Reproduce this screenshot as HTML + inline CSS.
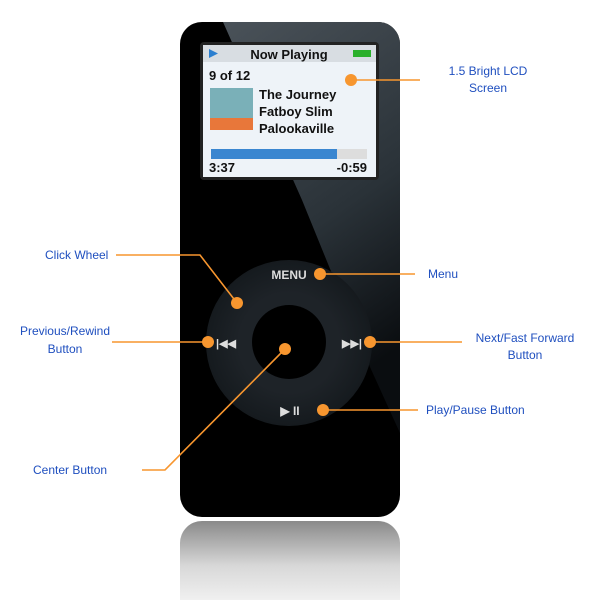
<!DOCTYPE html>
<html><head><style>
body{margin:0;background:#fff;}
svg text{font-family:"Liberation Sans",sans-serif;}
</style></head><body>
<svg width="600" height="600" viewBox="0 0 600 600" xmlns="http://www.w3.org/2000/svg">
<defs>
<linearGradient id="refl" x1="0" y1="0" x2="0" y2="1">
<stop offset="0" stop-color="#8a8a8a"/><stop offset="0.45" stop-color="#d8d8d8"/><stop offset="1" stop-color="#fff"/>
</linearGradient>
<linearGradient id="shine" x1="0" y1="0" x2="0.3" y2="1">
<stop offset="0" stop-color="#4a5259"/><stop offset="0.6" stop-color="#2a3238"/><stop offset="1" stop-color="#0a0d10"/>
</linearGradient>
<radialGradient id="wheel" cx="0.5" cy="0.5" r="0.5">
<stop offset="0.6" stop-color="#1e2328"/><stop offset="1" stop-color="#151a1e"/>
</radialGradient>
<clipPath id="body"><rect x="180" y="22" width="220" height="495" rx="22"/></clipPath>
</defs>
<rect x="180" y="521" width="220" height="100" rx="22" fill="url(#refl)"/>
<rect x="180" y="22" width="220" height="495" rx="22" fill="#000"/>
<polygon clip-path="url(#body)" points="223,22 400,22 400,433 370,367 302,200" fill="url(#shine)"/>
<rect x="200" y="42" width="179" height="138" rx="4" fill="#222"/>
<rect x="203" y="45" width="173" height="132" fill="#eef3f8"/>
<rect x="203" y="45" width="173" height="17" fill="#d8dde2"/>
<polygon points="209,49 209,58 218,53.5" fill="#2b7fd0"/>
<text x="289" y="59" font-size="13" font-weight="bold" text-anchor="middle" fill="#111">Now Playing</text>
<rect x="353" y="50" width="18" height="7" fill="#2bb02b"/>
<text x="209" y="80" font-size="13" font-weight="bold" fill="#111">9 of 12</text>
<rect x="210" y="88" width="43" height="42" fill="#7ab0b8"/>
<rect x="210" y="118" width="43" height="12" fill="#e8773a"/>
<text x="259" y="99" font-size="13" font-weight="bold" fill="#111">The Journey</text>
<text x="259" y="116" font-size="13" font-weight="bold" fill="#111">Fatboy Slim</text>
<text x="259" y="133" font-size="13" font-weight="bold" fill="#111">Palookaville</text>
<rect x="211" y="149" width="156" height="10" fill="#ddd"/>
<rect x="211" y="149" width="126" height="10" fill="#3a86d0"/>
<text x="209" y="172" font-size="13" font-weight="bold" fill="#111">3:37</text>
<text x="367" y="172" font-size="13" font-weight="bold" text-anchor="end" fill="#111">-0:59</text>
<circle cx="289" cy="343" r="83" fill="url(#wheel)"/>
<circle cx="289" cy="342" r="37" fill="#000"/>
<text x="289" y="279" font-size="12" font-weight="bold" text-anchor="middle" fill="#ddd">MENU</text>
<text x="226" y="347" font-size="11" font-weight="bold" text-anchor="middle" fill="#ddd">|◀◀</text>
<text x="352" y="347" font-size="11" font-weight="bold" text-anchor="middle" fill="#ddd">▶▶|</text>
<text x="290" y="415" font-size="12" font-weight="bold" text-anchor="middle" fill="#ddd">▶ II</text>
<g stroke="#f7962f" stroke-width="1.6" fill="none">
<line x1="351" y1="80" x2="420" y2="80"/>
<polyline points="116,255 200,255 237,303"/>
<line x1="320" y1="274" x2="415" y2="274"/>
<line x1="112" y1="342" x2="208" y2="342"/>
<line x1="370" y1="342" x2="462" y2="342"/>
<line x1="323" y1="410" x2="418" y2="410"/>
<polyline points="142,470 165,470 285,349"/>
</g>
<g fill="#f7962f">
<circle cx="351" cy="80" r="6"/><circle cx="237" cy="303" r="6"/>
<circle cx="320" cy="274" r="6"/><circle cx="208" cy="342" r="6"/>
<circle cx="285" cy="349" r="6"/><circle cx="370" cy="342" r="6"/>
<circle cx="323" cy="410" r="6"/>
</g>
<g font-size="12" fill="#1f4fbf">
<text x="488" y="75" text-anchor="middle">1.5 Bright LCD</text>
<text x="488" y="92" text-anchor="middle">Screen</text>
<text x="45" y="259">Click Wheel</text>
<text x="428" y="278">Menu</text>
<text x="65" y="335" text-anchor="middle">Previous/Rewind</text>
<text x="65" y="353" text-anchor="middle">Button</text>
<text x="525" y="342" text-anchor="middle">Next/Fast Forward</text>
<text x="525" y="359" text-anchor="middle">Button</text>
<text x="426" y="414">Play/Pause Button</text>
<text x="33" y="474">Center Button</text>
</g>
</svg>
</body></html>
